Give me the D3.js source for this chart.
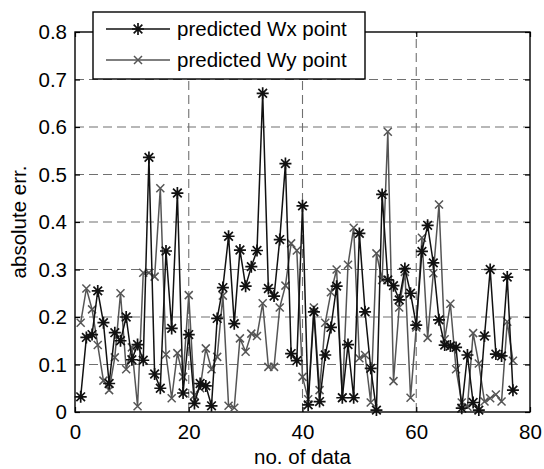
<!DOCTYPE html>
<html><head><meta charset="utf-8">
<script src="https://cdn.jsdelivr.net/npm/d3@7"></script>
<style>
body{margin:0;background:#fff}
svg{display:block}
text{font-family:"Liberation Sans",Arial,Helvetica,sans-serif}
</style></head>
<body><svg id="c" width="544" height="469"></svg>
<script>
const dataIndex = d3.range(1, 78);
const wxValues = [0.032,0.157,0.163,0.255,0.188,0.06,0.167,0.15,0.2,0.11,
  0.142,0.109,0.536,0.08,0.05,0.339,0.176,0.461,0.04,0.163,
  0.018,0.06,0.055,0.013,0.197,0.262,0.37,0.186,0.341,0.265,
  0.306,0.34,0.671,0.26,0.244,0.363,0.523,0.123,0.108,0.434,
  0.015,0.211,0.022,0.12,0.178,0.265,0.03,0.142,0.03,0.376,
  0.211,0.092,0.004,0.458,0.278,0.266,0.236,0.302,0.25,0.183,
  0.338,0.393,0.314,0.194,0.141,0.139,0.136,0.008,0.12,0.02,
  0.004,0.16,0.3,0.122,0.118,0.284,0.046];
const wyValues = [0.188,0.26,0.216,0.141,0.066,0.046,0.115,0.25,0.09,0.136,
  0.012,0.293,0.293,0.285,0.471,0.121,0.029,0.124,0.074,0.246,
  0.035,0.05,0.134,0.09,0.116,0.245,0.013,0.009,0.155,0.127,
  0.165,0.16,0.229,0.095,0.095,0.22,0.266,0.355,0.34,0.074,
  0.027,0.22,0.046,0.188,0.252,0.3,0.03,0.31,0.388,0.113,
  0.12,0.02,0.334,0.278,0.59,0.065,0.22,0.295,0.03,0.178,
  0.367,0.156,0.292,0.437,0.153,0.228,0.09,0.02,0.011,0.166,
  0.102,0.022,0.029,0.037,0.022,0.19,0.108];
const xTicks = [0, 20, 40, 60, 80];
const yTicks = [0, 0.1, 0.2, 0.3, 0.4, 0.5, 0.6, 0.7, 0.8];
const seriesNames = ["predicted Wx point", "predicted Wy point"];
const xLabel = "no. of data";
const yLabel = "absolute err.";

const FS = 20.5;
const L = 75, R = 530, T = 32, B = 412;
const x = d3.scaleLinear().domain([0, 80]).range([L, R]);
const y = d3.scaleLinear().domain([0, 0.8]).range([B, T]);
const svg = d3.select("#c");
svg.append("rect").attr("width", 544).attr("height", 469).attr("fill", "#fff");

// grid
const grid = svg.append("g").attr("stroke", "#707070").attr("stroke-width", 1.1).attr("stroke-dasharray", "9,5");
grid.selectAll(".gx").data(xTicks.slice(1, -1)).join("line")
  .attr("x1", d => x(d)).attr("x2", d => x(d)).attr("y1", B).attr("y2", T);
grid.selectAll(".gy").data(yTicks.slice(1, -1)).join("line")
  .attr("y1", d => y(d)).attr("y2", d => y(d)).attr("x1", L).attr("x2", R);

// axes
const fmtY = d => d === 0 ? "0" : d3.format(".1f")(d);
const ax = svg.append("g").attr("transform", `translate(0,${B})`)
  .call(d3.axisBottom(x).tickValues(xTicks).tickSize(-5).tickPadding(12).tickFormat(d3.format("d")));
const ay = svg.append("g").attr("transform", `translate(${L},0)`)
  .call(d3.axisLeft(y).tickValues(yTicks).tickSize(-5).tickPadding(8).tickFormat(fmtY));
const axTop = svg.append("g").attr("transform", `translate(0,${T})`)
  .call(d3.axisTop(x).tickValues(xTicks).tickSize(-5).tickFormat(""));
const ayR = svg.append("g").attr("transform", `translate(${R},0)`)
  .call(d3.axisRight(y).tickValues(yTicks).tickSize(-5).tickFormat(""));
[ax, ay, axTop, ayR].forEach(g => {
  g.select(".domain").remove();
  g.selectAll("line").attr("stroke", "#000").attr("stroke-width", 1.2);
  g.selectAll("text").attr("font-size", FS).attr("fill", "#000").attr("font-family", '"Liberation Sans",Arial,sans-serif');
});
svg.append("rect").attr("x", L).attr("y", T).attr("width", R - L).attr("height", B - T)
  .attr("fill", "none").attr("stroke", "#000").attr("stroke-width", 1.4);

// series
const line = d3.line().x((d, i) => x(dataIndex[i])).y(d => y(d));
const grayC = "#555555", blackC = "#111111";
function xMarker(g, cx, cy, s, c) {
  g.append("path").attr("d", `M${cx - s},${cy - s}L${cx + s},${cy + s}M${cx - s},${cy + s}L${cx + s},${cy - s}`)
    .attr("stroke", c).attr("stroke-width", 1.5).attr("fill", "none");
}
function starMarker(g, cx, cy, s, c) {
  const d = s * 0.72;
  g.append("path").attr("d", `M${cx - s},${cy}L${cx + s},${cy}M${cx},${cy - s}L${cx},${cy + s}M${cx - d},${cy - d}L${cx + d},${cy + d}M${cx - d},${cy + d}L${cx + d},${cy - d}`)
    .attr("stroke", c).attr("stroke-width", 1.7).attr("fill", "none");
}
const gy = svg.append("g");
gy.append("path").datum(wyValues).attr("d", line).attr("fill", "none").attr("stroke", grayC).attr("stroke-width", 1.5);
wyValues.forEach((v, i) => xMarker(gy, x(dataIndex[i]), y(v), 4, grayC));
const gx = svg.append("g");
gx.append("path").datum(wxValues).attr("d", line).attr("fill", "none").attr("stroke", blackC).attr("stroke-width", 1.5);
wxValues.forEach((v, i) => starMarker(gx, x(dataIndex[i]), y(v), 6, blackC));

// legend
const lg = svg.append("g");
lg.append("rect").attr("x", 93).attr("y", 12).attr("width", 272).attr("height", 67)
  .attr("fill", "#fff").attr("stroke", "#000").attr("stroke-width", 1.4);
const rows = [{n: seriesNames[0], c: blackC, m: starMarker, s: 6, yy: 29},
              {n: seriesNames[1], c: grayC, m: xMarker, s: 4, yy: 60}];
rows.forEach(r => {
  lg.append("line").attr("x1", 106).attr("x2", 170).attr("y1", r.yy).attr("y2", r.yy).attr("stroke", r.c).attr("stroke-width", 1.5);
  r.m(lg, 138, r.yy, r.s, r.c);
  lg.append("text").attr("x", 177).attr("y", r.yy).attr("dy", "0.36em").attr("font-size", FS).attr("fill", "#000").text(r.n);
});

// labels
svg.append("text").attr("x", (L + R) / 2).attr("y", 464).attr("text-anchor", "middle").attr("font-size", FS).text(xLabel);
svg.append("text").attr("transform", `translate(26,${(T + B) / 2}) rotate(-90)`).attr("text-anchor", "middle").attr("font-size", FS).text(yLabel);
</script></body></html>
